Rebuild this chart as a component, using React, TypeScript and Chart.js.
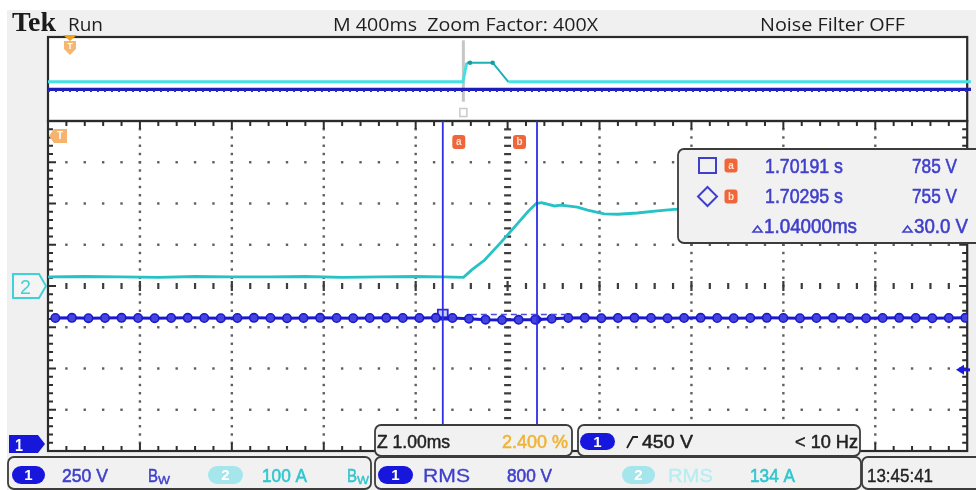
import React, { useEffect, useRef } from "react";
import { Chart, registerables } from "chart.js";
Chart.register(...registerables);

const W = 976;
const H = 490;

// ---------- zoomed window (1.00 ms/div, 10 divisions) ----------
const zoomTimeRange = [0, 10]; // ms from left edge of the zoom window
const ch1Range = [-42, 1958]; // V, 250 V/div, ground at 0 V
const ch2Range = [-400, 400]; // A, 100 A/div, ground at centre

// channel 2 (current, cyan)
const ch2Times = [0, 0.4, 0.8, 1.2, 1.6, 2.0, 2.4, 2.8, 3.2, 3.6, 4.0, 4.3, 4.52, 4.61, 4.75, 4.9, 5.0, 5.11, 5.22, 5.31, 5.37, 5.51, 5.58, 5.76, 5.87, 6.05, 6.2, 6.41, 6.63, 6.81, 7.5, 8.5, 10];
const ch2Amps = [22, 23, 22, 21, 23, 22, 22, 23, 21, 22, 23, 22, 21, 39, 63, 99, 124, 152, 180, 200, 202, 194, 196, 191, 184, 175, 174, 177, 182, 186, 188, 187, 188];

// channel 1 (voltage, blue) sample points
const ch1Times = [0.08, 0.26, 0.44, 0.62, 0.8, 0.98, 1.16, 1.34, 1.52, 1.7, 1.88, 2.06, 2.24, 2.42, 2.6, 2.78, 2.96, 3.14, 3.32, 3.5, 3.68, 3.86, 4.04, 4.22, 4.4, 4.58, 4.76, 4.94, 5.12, 5.3, 5.48, 5.66, 5.84, 6.02, 6.2, 6.38, 6.56, 6.74, 6.92, 7.1, 7.28, 7.46, 7.64, 7.82, 8.0, 8.18, 8.36, 8.54, 8.72, 8.9, 9.08, 9.26, 9.44, 9.62, 9.8, 9.98];
const ch1Volts = [764, 765, 763, 764, 765, 764, 763, 764, 765, 764, 763, 764, 765, 764, 763, 764, 765, 764, 763, 764, 765, 764, 764, 765, 764, 760, 754, 752, 753, 754, 760, 764, 765, 763, 764, 765, 764, 763, 764, 765, 764, 763, 764, 765, 764, 763, 764, 765, 764, 763, 764, 765, 764, 763, 764, 765];

// cursors
const cursorTimes = [4.295, 5.32];
const cursorVolts = [785, 755];
const cursorReadoutTimes = ["1.70191 s", "1.70295 s"];
const cursorReadoutVolts = ["785 V", "755 V"];
const cursorDeltas = ["1.04000ms", "30.0 V"];
const cursorLevelTimes = [4.6, 5.7];
const triggerLevel = 450;

// ---------- overview window (400 ms/div) ----------
const overviewRange = [0, 4]; // s
const ovLevelRange = [0, 100];
const ovCyanTimes = [0, 1.798, 1.815, 1.829, 1.927, 1.995, 4];
const ovCyanLevels = [46, 46, 69, 69, 69, 46, 46];
const ovBlueTimes = [0, 4];
const ovBlueLevels = [37, 37];
const ovNoiseLevels = [35, 35];
const zoomPosition = 1.8;
const zoomMarkerLevels = [22, 96];

const header = ["Tek", "Run", "M 400ms  Zoom Factor: 400X", "Noise Filter OFF"];

const BLUE_TXT = "#3f3fcc";
const CYAN_TXT = "#30c6ce";
const SANS = "'Liberation Sans', 'DejaVu Sans', sans-serif";
const UI = "'Open Sans', 'Noto Sans', sans-serif";

function zip(xs: number[], ys: number[]) {
  return xs.map((x, i) => ({ x, y: ys[i] }));
}

function rr(ctx: CanvasRenderingContext2D, x: number, y: number, w: number, h: number, r: number) {
  ctx.beginPath();
  ctx.moveTo(x + r, y);
  ctx.lineTo(x + w - r, y);
  ctx.arcTo(x + w, y, x + w, y + r, r);
  ctx.lineTo(x + w, y + h - r);
  ctx.arcTo(x + w, y + h, x + w - r, y + h, r);
  ctx.lineTo(x + r, y + h);
  ctx.arcTo(x, y + h, x, y + h - r, r);
  ctx.lineTo(x, y + r);
  ctx.arcTo(x, y, x + r, y, r);
  ctx.closePath();
}

function fitText(ctx: CanvasRenderingContext2D, text: string, x1: number, x2: number, base: number, font: string, color: string, thick = 0) {
  ctx.save();
  ctx.font = font;
  ctx.fillStyle = color;
  ctx.textAlign = "left";
  ctx.textBaseline = "alphabetic";
  const w = ctx.measureText(text).width || 1;
  ctx.translate(x1, base);
  ctx.scale((x2 - x1) / w, 1);
  ctx.fillText(text, 0, 0);
  if (thick > 0) {
    ctx.strokeStyle = color;
    ctx.lineWidth = thick;
    ctx.lineJoin = "round";
    ctx.strokeText(text, 0, 0);
  }
  ctx.restore();
}

function pill(ctx: CanvasRenderingContext2D, x1: number, x2: number, y1: number, y2: number, fill: string, label: string) {
  ctx.save();
  rr(ctx, x1, y1, x2 - x1, y2 - y1, (y2 - y1) / 2);
  ctx.fillStyle = fill;
  ctx.fill();
  ctx.fillStyle = "#ffffff";
  ctx.font = `bold 15px ${SANS}`;
  ctx.textAlign = "center";
  ctx.textBaseline = "middle";
  ctx.fillText(label, (x1 + x2) / 2, (y1 + y2) / 2 + 1);
  ctx.restore();
}

function orangeTag(ctx: CanvasRenderingContext2D, cx: number, cy: number, letter: string) {
  ctx.save();
  rr(ctx, cx - 6.5, cy - 7, 13, 14, 3);
  ctx.fillStyle = "#f0663a";
  ctx.fill();
  ctx.fillStyle = "#ffe2d2";
  ctx.font = `bold 10px ${SANS}`;
  ctx.textAlign = "center";
  ctx.textBaseline = "middle";
  ctx.fillText(letter, cx, cy + 0.5);
  ctx.restore();
}

function bw(ctx: CanvasRenderingContext2D, x: number, color: string) {
  fitText(ctx, "B", x, x + 10, 481.5, `18px ${SANS}`, color, 0.5);
  fitText(ctx, "W", x + 10, x + 22, 484, `11px ${SANS}`, color, 0.4);
}

function box(ctx: CanvasRenderingContext2D, x1: number, y1: number, x2: number, y2: number) {
  rr(ctx, x1, y1, x2 - x1, y2 - y1, 6);
  ctx.fillStyle = "#f1f1f1";
  ctx.fill();
  ctx.strokeStyle = "#3c3c3c";
  ctx.lineWidth = 1.8;
  ctx.stroke();
}

const scopePlugin = {
  id: "scopeDecor",
  beforeDraw(chart: any) {
    const ctx: CanvasRenderingContext2D = chart.ctx;
    const a = chart.chartArea;
    ctx.save();
    ctx.fillStyle = "#ffffff";
    ctx.fillRect(0, 0, W, H);
    ctx.fillStyle = "#f0f0f0";
    ctx.fillRect(7, 10, W - 7, H - 10);
    ctx.fillStyle = "#ffffff";
    ctx.fillRect(a.left, 37, a.right - a.left, a.top - 37);
    ctx.fillRect(a.left, a.top, a.right - a.left, a.bottom - a.top);
    // header
    fitText(ctx, header[0], 12, 56, 31, `bold 27px 'Liberation Serif', 'DejaVu Serif', serif`, "#1a1a1a");
    fitText(ctx, header[1], 68, 103, 31, `18px ${UI}`, "#1e1e1e");
    fitText(ctx, header[2], 333, 598, 31, `18px ${UI}`, "#1e1e1e");
    fitText(ctx, header[3], 760, 905, 31, `18px ${UI}`, "#1e1e1e");
    ctx.restore();
  },
  beforeDatasetsDraw(chart: any) {
    const ctx: CanvasRenderingContext2D = chart.ctx;
    const a = chart.chartArea;
    const L = a.left, R = a.right, T = a.top, B = a.bottom;
    const dx = (R - L) / 10, dy = (B - T) / 8;
    ctx.save();
    ctx.fillStyle = "#5e5e5e";
    for (let k = 1; k < 8; k++) {
      if (k === 4) continue;
      const y = T + k * dy;
      for (let j = 1; j < 50; j++) ctx.fillRect(L + (j * dx) / 5 - 1.2, y - 1.2, 2.4, 2.4);
    }
    for (let i = 1; i < 10; i++) {
      if (i === 5) continue;
      const x = L + i * dx;
      for (let j = 1; j < 40; j++) ctx.fillRect(x - 1.2, T + (j * dy) / 5 - 1.2, 2.4, 2.4);
    }
    ctx.fillStyle = "#3c3c3c";
    const cx = L + 5 * dx, cy = T + 4 * dy;
    for (let j = 1; j < 40; j++) ctx.fillRect(cx - 3.5, T + (j * dy) / 5 - 1, 7, 2.2);
    for (let j = 1; j < 50; j++) {
      const h = j % 5 === 0 ? 10 : 6;
      ctx.fillRect(L + (j * dx) / 5 - 1.1, cy - h / 2, 2.2, h);
    }
    ctx.fillStyle = "#2e2e2e";
    for (let j = 1; j < 50; j++) {
      const x = L + (j * dx) / 5;
      const h = j % 5 === 0 ? 8 : 5;
      ctx.fillRect(x - 1, T, 2, h);
      ctx.fillRect(x - 1, B - h, 2, h);
    }
    for (let j = 1; j < 40; j++) {
      const y = T + (j * dy) / 5;
      const h = j % 5 === 0 ? 8 : 5;
      ctx.fillRect(L, y - 1, h, 2);
      ctx.fillRect(R - h, y - 1, h, 2);
    }
    ctx.strokeStyle = "#2b2b2b";
    ctx.lineWidth = 2.2;
    ctx.strokeRect(L, T, R - L, B - T);
    ctx.strokeRect(L, 37, R - L, T - 37);
    ctx.restore();
  },
  afterDatasetsDraw(chart: any) {
    const ctx: CanvasRenderingContext2D = chart.ctx;
    const a = chart.chartArea;
    const xs = chart.scales.x, y1 = chart.scales.y1, y2 = chart.scales.y2;
    ctx.save();
    // cursor tags
    const ca = xs.getPixelForValue(cursorTimes[0]);
    const cb = xs.getPixelForValue(cursorTimes[1]);
    orangeTag(ctx, ca + 16, a.top + 21, "a");
    orangeTag(ctx, cb - 17.5, a.top + 21, "b");

    // trigger position marker in zoom window (top-left)
    ctx.beginPath();
    ctx.moveTo(a.left + 1, a.top + 15);
    ctx.lineTo(a.left + 6, a.top + 8);
    ctx.lineTo(a.left + 19, a.top + 8);
    ctx.lineTo(a.left + 19, a.top + 22);
    ctx.lineTo(a.left + 6, a.top + 22);
    ctx.closePath();
    ctx.fillStyle = "#f6b36e";
    ctx.fill();
    ctx.fillStyle = "#ffffff";
    ctx.font = `bold 10px ${SANS}`;
    ctx.textAlign = "center";
    ctx.textBaseline = "middle";
    ctx.fillText("T", a.left + 12, a.top + 15.5);

    // overview trigger marker
    ctx.beginPath();
    ctx.moveTo(63, 35);
    ctx.lineTo(77, 35);
    ctx.lineTo(70, 41);
    ctx.closePath();
    ctx.fillStyle = "#efa21e";
    ctx.fill();
    ctx.beginPath();
    ctx.moveTo(64, 41);
    ctx.lineTo(76, 41);
    ctx.lineTo(76, 49);
    ctx.lineTo(70, 55);
    ctx.lineTo(64, 49);
    ctx.closePath();
    ctx.fillStyle = "#f5b673";
    ctx.fill();
    ctx.fillStyle = "#ffffff";
    ctx.font = `bold 9px ${SANS}`;
    ctx.fillText("T", 70, 47);

    // channel markers on the left
    const g2 = y2.getPixelForValue(0);
    ctx.beginPath();
    ctx.moveTo(13, g2 - 12);
    ctx.lineTo(39, g2 - 12);
    ctx.lineTo(46, g2);
    ctx.lineTo(39, g2 + 12);
    ctx.lineTo(13, g2 + 12);
    ctx.closePath();
    ctx.fillStyle = "#f4f4f4";
    ctx.fill();
    ctx.strokeStyle = "#3ed2d8";
    ctx.lineWidth = 2;
    ctx.stroke();
    fitText(ctx, "2", 20, 31, g2 + 8, `21px ${SANS}`, "#3ed2d8");

    const g1 = y1.getPixelForValue(0);
    ctx.beginPath();
    ctx.moveTo(9, g1 - 9);
    ctx.lineTo(38, g1 - 9);
    ctx.lineTo(45, g1);
    ctx.lineTo(38, g1 + 9);
    ctx.lineTo(9, g1 + 9);
    ctx.closePath();
    ctx.fillStyle = "#1717dc";
    ctx.fill();
    fitText(ctx, "1", 15, 23, g1 + 7, `bold 17px ${SANS}`, "#ffffff");

    // trigger level arrow (right)
    const tl = y1.getPixelForValue(triggerLevel);
    ctx.beginPath();
    ctx.moveTo(956, tl);
    ctx.lineTo(964, tl - 5);
    ctx.lineTo(964, tl + 5);
    ctx.closePath();
    ctx.fillStyle = "#1a1ae0";
    ctx.fill();
    ctx.fillRect(963, tl - 1.5, 7, 3);

    // cursor readout box
    box(ctx, 678, 149, 990, 243);
    ctx.strokeStyle = BLUE_TXT;
    ctx.lineWidth = 2;
    ctx.strokeRect(699, 158, 17, 15);
    ctx.beginPath();
    ctx.moveTo(707.5, 187);
    ctx.lineTo(717, 196.5);
    ctx.lineTo(707.5, 206);
    ctx.lineTo(698, 196.5);
    ctx.closePath();
    ctx.stroke();
    orangeTag(ctx, 731, 165.5, "a");
    orangeTag(ctx, 731, 196.5, "b");
    const f21 = `21px ${SANS}`;
    fitText(ctx, cursorReadoutTimes[0], 765, 843, 173, f21, BLUE_TXT, 0.6);
    fitText(ctx, cursorReadoutVolts[0], 912, 957, 173, f21, BLUE_TXT, 0.6);
    fitText(ctx, cursorReadoutTimes[1], 765, 843, 203, f21, BLUE_TXT, 0.6);
    fitText(ctx, cursorReadoutVolts[1], 912, 957, 203, f21, BLUE_TXT, 0.6);
    const tri = (x: number, base: number) => {
      ctx.beginPath();
      ctx.moveTo(x, base);
      ctx.lineTo(x + 4.5, base - 6);
      ctx.lineTo(x + 9, base);
      ctx.closePath();
      ctx.strokeStyle = BLUE_TXT;
      ctx.lineWidth = 1.6;
      ctx.stroke();
    };
    tri(753, 232);
    fitText(ctx, cursorDeltas[0], 764, 857, 233, f21, BLUE_TXT, 0.6);
    tri(903, 232);
    fitText(ctx, cursorDeltas[1], 914, 968, 233, f21, BLUE_TXT, 0.6);
    ctx.restore();
  },
  afterDraw(chart: any) {
    const ctx: CanvasRenderingContext2D = chart.ctx;
    ctx.save();
    // bottom row boxes
    box(ctx, 8, 457, 371, 489);
    box(ctx, 375, 457, 861, 489);
    box(ctx, 862, 457, 990, 489);
    // zoom & trigger boxes
    box(ctx, 375, 425, 572, 456);
    box(ctx, 578, 425, 860, 456);

    const f19 = `19px ${SANS}`;
    const f18 = `18px ${SANS}`;
    fitText(ctx, "Z 1.00ms", 377, 450, 448, f18, "#222222", 0.5);
    fitText(ctx, "2.400 %", 502, 568, 448, f18, "#f0b333", 0.5);
    pill(ctx, 580, 615, 433, 450, "#1616dc", "1");
    ctx.beginPath();
    ctx.moveTo(627, 448);
    ctx.lineTo(633, 437);
    ctx.lineTo(638, 437);
    ctx.strokeStyle = "#222222";
    ctx.lineWidth = 1.8;
    ctx.stroke();
    fitText(ctx, "450 V", 642, 693, 448, f18, "#222222", 0.5);
    fitText(ctx, "< 10 Hz", 795, 858, 448, f18, "#222222", 0.5);

    pill(ctx, 12, 45, 466, 484, "#1616dc", "1");
    fitText(ctx, "250 V", 62, 108, 481.5, f19, BLUE_TXT, 0.6);
    bw(ctx, 148, BLUE_TXT);
    pill(ctx, 208, 243, 466, 484, "#a5e6ec", "2");
    fitText(ctx, "100 A", 262, 307, 481.5, f19, CYAN_TXT, 0.6);
    bw(ctx, 347, CYAN_TXT);

    pill(ctx, 378, 413, 466, 484, "#1616dc", "1");
    fitText(ctx, "RMS", 423, 470, 481.5, f19, BLUE_TXT, 0.3);
    fitText(ctx, "800 V", 507, 552, 481.5, f19, BLUE_TXT, 0.6);
    pill(ctx, 622, 655, 466, 484, "#a5e6ec", "2");
    fitText(ctx, "RMS", 668, 713, 481.5, f19, "#b4eef2", 0.3);
    fitText(ctx, "134 A", 750, 795, 481.5, f19, CYAN_TXT, 0.6);

    fitText(ctx, "13:45:41", 867, 933, 481.5, f19, "#222222", 0.4);
    ctx.restore();
  },
};

const overviewPlugin = {
  id: "overviewDecor",
  afterDatasetsDraw(chart: any) {
    const ctx: CanvasRenderingContext2D = chart.ctx;
    const x = chart.scales.x.getPixelForValue(zoomPosition);
    ctx.save();
    ctx.strokeStyle = "#c9c9c9";
    ctx.lineWidth = 1.5;
    ctx.strokeRect(x - 3.5, 71.5, 7, 8);
    ctx.restore();
  },
};

export default function App() {
  const mainRef = useRef<HTMLCanvasElement>(null);
  const ovRef = useRef<HTMLCanvasElement>(null);

  useEffect(() => {
    const main = new Chart(mainRef.current as HTMLCanvasElement, {
      type: "line",
      data: {
        datasets: [
          {
            data: [
              { x: cursorTimes[0], y: ch1Range[0] },
              { x: cursorTimes[0], y: ch1Range[1] },
            ],
            yAxisID: "y1",
            borderColor: "#2f2fe6",
            borderWidth: 1.8,
            pointRadius: 0,
          },
          {
            data: [
              { x: cursorTimes[1], y: ch1Range[0] },
              { x: cursorTimes[1], y: ch1Range[1] },
            ],
            yAxisID: "y1",
            borderColor: "#2f2fe6",
            borderWidth: 1.8,
            pointRadius: 0,
          },
          {
            data: zip(ch2Times, ch2Amps),
            yAxisID: "y2",
            borderColor: "#27c2c6",
            borderWidth: 2.8,
            pointRadius: 0,
          },
          {
            data: zip(cursorLevelTimes, [cursorVolts[0], cursorVolts[0]]),
            yAxisID: "y1",
            borderColor: "#4a4ae2",
            borderWidth: 1.6,
            borderDash: [6, 4],
            pointRadius: 0,
          },
          {
            data: zip(ch1Times, ch1Volts),
            yAxisID: "y1",
            borderColor: "#1a1acc",
            borderWidth: 3,
            pointRadius: 4.2,
            pointStyle: "circle",
            pointBackgroundColor: "#4545de",
            pointBorderColor: "#1a1acc",
            pointBorderWidth: 1.6,
          },
          {
            data: [{ x: cursorTimes[0], y: cursorVolts[0] }],
            yAxisID: "y1",
            pointStyle: "rect",
            pointRadius: 7,
            pointBorderColor: "#2828e0",
            pointBackgroundColor: "rgba(110,110,240,0.35)",
            pointBorderWidth: 1.8,
            showLine: false,
          },
          {
            data: [{ x: cursorTimes[1], y: cursorVolts[1] }],
            yAxisID: "y1",
            pointStyle: "rectRot",
            pointRadius: 5,
            pointBorderColor: "#2828e0",
            pointBackgroundColor: "rgba(110,110,240,0.3)",
            pointBorderWidth: 1.5,
            showLine: false,
          },
        ],
      },
      options: {
        animation: false,
        responsive: false,
        devicePixelRatio: 1,
        events: [],
        layout: { padding: { left: 48, top: 121, right: 5, bottom: 39 } },
        scales: {
          x: { type: "linear", min: zoomTimeRange[0], max: zoomTimeRange[1], display: false },
          y1: { type: "linear", min: ch1Range[0], max: ch1Range[1], display: false },
          y2: { type: "linear", min: ch2Range[0], max: ch2Range[1], display: false },
        },
        plugins: { legend: { display: false }, tooltip: { enabled: false } },
      },
      plugins: [scopePlugin],
    } as any);

    const ov = new Chart(ovRef.current as HTMLCanvasElement, {
      type: "line",
      data: {
        datasets: [
          {
            data: zip(ovCyanTimes, ovCyanLevels),
            borderColor: "#45dfe4",
            borderWidth: 3,
            segment: {
              borderColor: (c: any) => (c.p0.parsed.x >= 1.81 && c.p1.parsed.x <= 2.0 ? "#1fb1b3" : "#45dfe4"),
              borderWidth: (c: any) => (c.p0.parsed.x >= 1.81 && c.p1.parsed.x <= 2.0 ? 2 : 3),
            },
            pointRadius: (c: any) => (c.dataIndex === 3 || c.dataIndex === 4 ? 2.2 : 0),
            pointBackgroundColor: "#1a9c9e",
            pointBorderWidth: 0,
          },
          {
            data: zip(ovBlueTimes, ovNoiseLevels),
            borderColor: "#2a2ad0",
            borderWidth: 2,
            borderDash: [2, 5],
            pointRadius: 0,
          },
          {
            data: zip(ovBlueTimes, ovBlueLevels),
            borderColor: "#1c1cb8",
            borderWidth: 3.2,
            pointRadius: 0,
          },
          {
            data: zip([zoomPosition, zoomPosition], zoomMarkerLevels),
            borderColor: "#c6c6c6",
            borderWidth: 3,
            pointRadius: 0,
          },
        ],
      },
      options: {
        animation: false,
        responsive: false,
        devicePixelRatio: 1,
        events: [],
        layout: { padding: 0 },
        scales: {
          x: { type: "linear", min: overviewRange[0], max: overviewRange[1], display: false },
          y: { type: "linear", min: ovLevelRange[0], max: ovLevelRange[1], display: false },
        },
        plugins: { legend: { display: false }, tooltip: { enabled: false } },
      },
      plugins: [overviewPlugin],
    } as any);

    return () => {
      main.destroy();
      ov.destroy();
    };
  }, []);

  return (
    <div style={{ position: "absolute", left: 0, top: 0, width: W, height: H, overflow: "hidden" }}>
      <canvas ref={mainRef} width={W} height={H} style={{ position: "absolute", left: 0, top: 0, width: W, height: H }} />
      <canvas ref={ovRef} width={923} height={83} style={{ position: "absolute", left: 48, top: 37, width: 923, height: 83 }} />
    </div>
  );
}
